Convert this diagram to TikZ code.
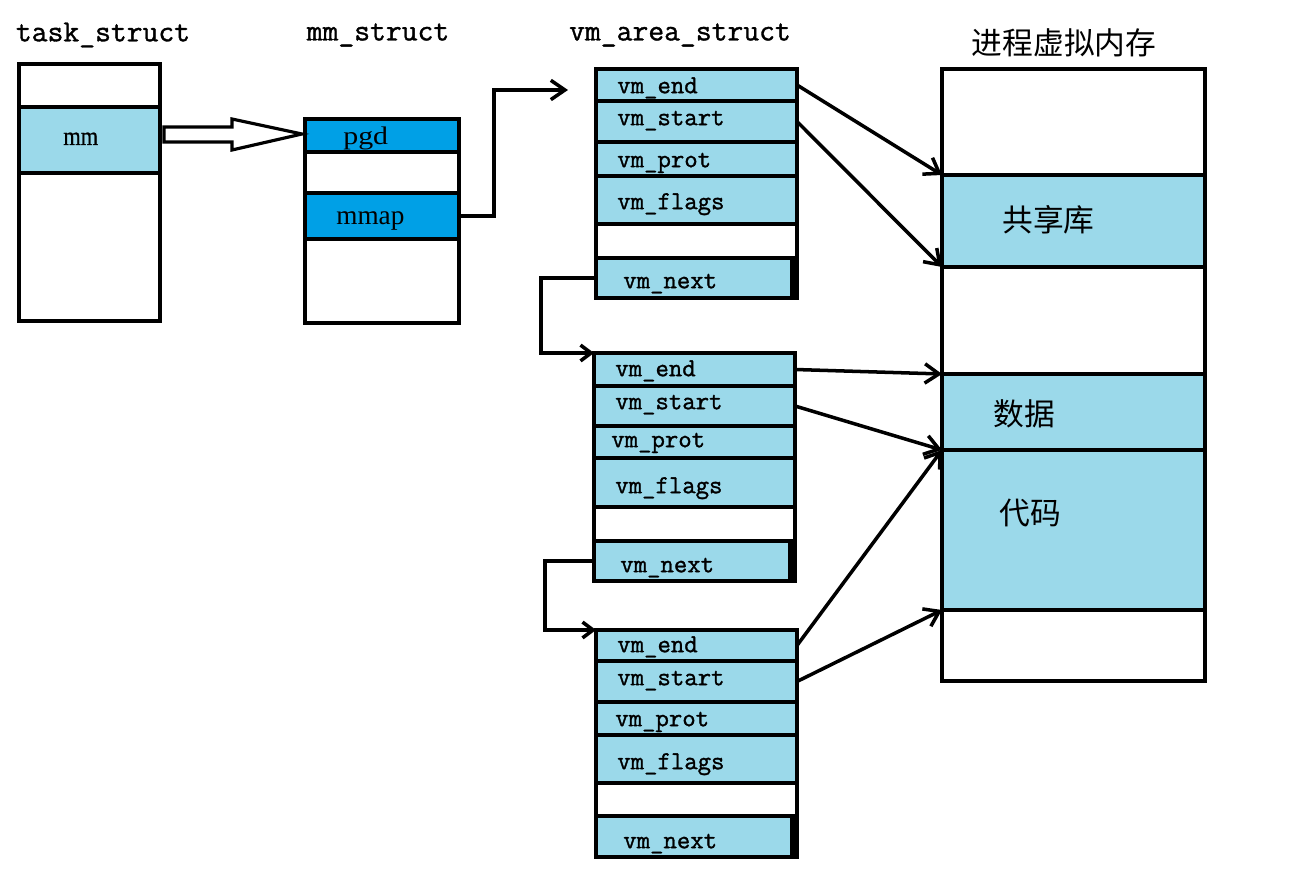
\documentclass[tikz,border=0pt]{standalone}
\usepackage{fontspec}
\setmainfont{Liberation Serif}
\setmonofont{Latin Modern Mono}
\newfontfamily\cjk{Noto Sans CJK SC}
\newfontfamily\monob[FakeBold=1.2]{Latin Modern Mono}
\newfontfamily\serifb[FakeBold=0.8]{Liberation Serif}
\usetikzlibrary{fit,arrows.meta,calc}
\definecolor{lb}{HTML}{9BD9EA}
\definecolor{db}{HTML}{00A0E6}
\newcommand\cellbox[6]{\node[cellbase,#2,fit={(#3,#4)(#5,#6)}] (#1) {};}
\begin{document}
\begin{tikzpicture}[x=0.02cm,y=-0.02cm,
  cellbase/.style={draw=black,line width=1.8pt,inner sep=0pt,outer sep=0pt},
  white/.style={fill=white},
  light/.style={fill=lb},
  dark/.style={fill=db},
  title/.style={font=\monob\fontsize{17.5}{20}\selectfont,inner sep=0pt},
  lab/.style={font=\monob\fontsize{14.8}{17}\selectfont,anchor=west,inner sep=0pt,text height=1.6ex,text depth=0.3ex},
  slab/.style={anchor=base west,inner sep=0pt},
  clab/.style={font=\cjk\fontsize{17.5}{20}\selectfont,anchor=west,inner sep=0pt},
  conn/.style={line width=2pt,-{Straight Barb[length=8pt,width=11pt,line width=2pt]}},
  link/.style={line width=2pt,-{Straight Barb[length=6pt,width=9pt,line width=2pt]}},
]
\useasboundingbox (0,0) rectangle (1302,891);
\fill[white] (0,0) rectangle (1302,891);

% titles
\node[title] (ttask) at (103,35) {task\_struct};
\node[title] (tmm) at (378,35) {mm\_struct};
\node[title] (tvma) at (680,35) {vm\_area\_struct};
\node[font=\cjk\fontsize{17.5}{20}\selectfont,inner sep=0pt] (tmem) at (1064,43) {进程虚拟内存};

% task_struct
\cellbox{t1}{white}{19}{64}{160}{107}
\cellbox{t2}{light}{19}{107}{160}{173}
\cellbox{t3}{white}{19}{173}{160}{321}
\node[slab,font=\serifb\fontsize{15}{18}\selectfont] (tmmlab) at (63,145) {\scalebox{0.85}[1]{mm}};

% mm_struct
\cellbox{m1}{dark}{305}{119}{459}{152}
\cellbox{m2}{white}{305}{152}{459}{193}
\cellbox{m3}{dark}{305}{193}{459}{239}
\cellbox{m4}{white}{305}{239}{459}{323}
\node[slab,font=\fontsize{17}{20}\selectfont] (pgd) at (343,145) {\scalebox{1}[0.85]{pgd}};
\node[slab,font=\fontsize{15.5}{18}\selectfont] (mmap) at (336,225) {mmap};

% hollow arrow task_struct -> mm_struct
\draw[line width=1.8pt,fill=white] (164,127) -- (232,127) -- (232,119) -- (302,134) -- (232,150) -- (232,142) -- (164,142) -- cycle;

% vm_area 1
\cellbox{aend}{light}{596}{69}{797}{101}
\cellbox{astart}{light}{596}{101}{797}{142}
\cellbox{aprot}{light}{596}{142}{797}{176}
\cellbox{aflags}{light}{596}{176}{797}{224}
\cellbox{ablank}{white}{596}{224}{797}{258}
\cellbox{anext}{light}{596}{258}{797}{298}
\draw[line width=3.5pt] (793,258) -- (793,298);
\node[lab] (laend) at (617,88) {vm\_end};
\node[lab] (lastart) at (617,120) {vm\_start};
\node[lab] (laprot) at (617,162) {vm\_prot};
\node[lab] (laflags) at (617,204) {vm\_flags};
\node[lab] (lanext) at (623,283) {vm\_next};

% vm_area 2
\cellbox{bend}{light}{594}{353}{795}{386}
\cellbox{bstart}{light}{594}{386}{795}{426}
\cellbox{bprot}{light}{594}{426}{795}{458}
\cellbox{bflags}{light}{594}{458}{795}{507}
\cellbox{bblank}{white}{594}{507}{795}{541}
\cellbox{bnext}{light}{594}{541}{795}{581}
\draw[line width=3.5pt] (791,541) -- (791,581);
\node[lab] (lbend) at (615,371) {vm\_end};
\node[lab] (lbstart) at (615,404) {vm\_start};
\node[lab] (lbprot) at (611,442) {vm\_prot};
\node[lab] (lbflags) at (615,488) {vm\_flags};
\node[lab] (lbnext) at (620,567) {vm\_next};

% vm_area 3
\cellbox{cend}{light}{596}{630}{797}{661}
\cellbox{cstart}{light}{596}{661}{797}{702}
\cellbox{cprot}{light}{596}{702}{797}{735}
\cellbox{cflags}{light}{596}{735}{797}{783}
\cellbox{cblank}{white}{596}{783}{797}{816}
\cellbox{cnext}{light}{596}{816}{797}{857}
\draw[line width=3.5pt] (793,816) -- (793,857);
\node[lab] (lcend) at (617,647) {vm\_end};
\node[lab] (lcstart) at (617,680) {vm\_start};
\node[lab] (lcprot) at (615,721) {vm\_prot};
\node[lab] (lcflags) at (617,764) {vm\_flags};
\node[lab] (lcnext) at (623,843) {vm\_next};

% process virtual memory
\cellbox{p1}{white}{942}{69}{1205}{175}
\cellbox{p2}{light}{942}{175}{1205}{267}
\cellbox{p3}{white}{942}{267}{1205}{374}
\cellbox{p4}{light}{942}{374}{1205}{450}
\cellbox{p5}{light}{942}{450}{1205}{610}
\cellbox{p6}{white}{942}{610}{1205}{681}
\node[clab] (lshared) at (1002,220) {共享库};
\node[clab] (ldata) at (993,414) {数据};
\node[clab] (lcode) at (999,513) {代码};

% connectors
\coordinate (ain) at (568,90);
\draw[conn] (m3.east) -- ++(35,0) |- (ain);
\draw[link] (anext.west) -- ++(-55,0) |- (bend.north west);
\draw[link] (bnext.west) -- ++(-49,0) |- (cend.north west);

\draw[conn] (aend.east) -- (p2.north west);
\draw[conn] (astart.east) -- (p2.south west);
\draw[conn] (bend.east) -- (p4.north west);
\draw[conn] (bstart.east) -- (p4.south west);
\draw[conn] (cend.east) -- (p5.north west);
\draw[conn] (cstart.east) -- (p5.south west);
\end{tikzpicture}
\end{document}
